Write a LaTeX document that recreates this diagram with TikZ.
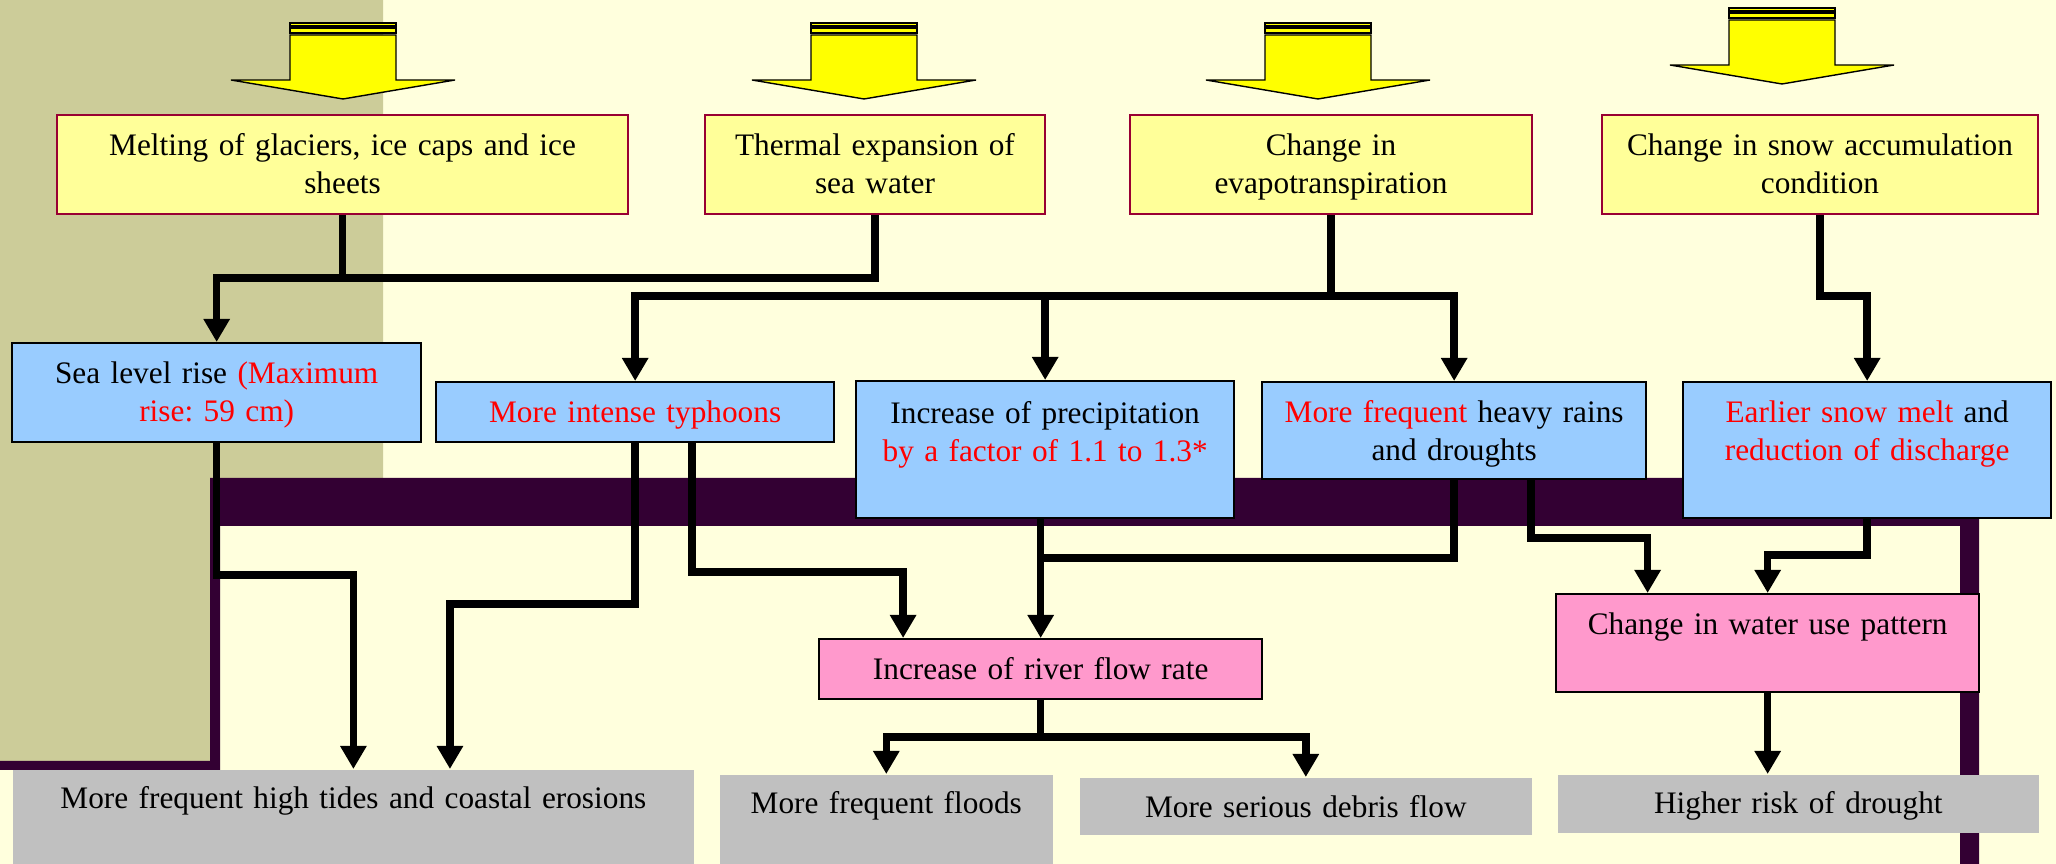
\documentclass[tikz,border=0pt]{standalone}
\usepackage{fontspec}
\setmainfont{Liberation Serif}
\usetikzlibrary{arrows.meta}
\definecolor{paper}{RGB}{255,255,221}
\definecolor{khaki}{RGB}{204,204,153}
\definecolor{plum}{RGB}{51,0,51}
\definecolor{causefill}{RGB}{255,255,153}
\definecolor{causeline}{RGB}{153,0,51}
\definecolor{impactfill}{RGB}{153,204,255}
\definecolor{flowfill}{RGB}{255,153,204}
\definecolor{resultfill}{RGB}{192,192,192}
\definecolor{bigarrow}{RGB}{255,255,0}

\begin{document}
\begin{tikzpicture}[x=0.01cm, y=-0.01cm,
                every node/.style={font=\fontsize{8.9}{10.8}\selectfont\frenchspacing},
                box/.style={inner sep=0pt, align=center, anchor=north west},
                causebox/.style={box, draw=causeline, fill=causefill, line width=.5pt},
                impactbox/.style={box, draw=black, fill=impactfill, line width=.6pt},
                flowbox/.style={box, draw=black, fill=flowfill, line width=.6pt},
                resultbox/.style={box, fill=resultfill},
                link/.style={line width=.075cm},
                linkarrow/.style={link, -{Triangle[width=.25cm,length=.23cm]}}
                ]
  \useasboundingbox (0,0) rectangle (2056,864);
  \fill[paper] (0,0) rectangle (2056,864);
  \fill[khaki] (0,0) rectangle (383,478) (0,478) rectangle (210,761);
  \fill[plum] (210,478) rectangle (1979,526) (210,526) rectangle (220,770)
              (0,761) rectangle (220,770) (1960,526) rectangle (1979,864);

  % striped block arrows on top
  \foreach \cx/\ty in {343/23, 864/23, 1318/23, 1782/8} {
    \filldraw[fill=bigarrow, line width=.4pt] (\cx-53,\ty) rectangle (\cx+53,\ty+3);
    \filldraw[fill=bigarrow, line width=.4pt] (\cx-53,\ty+5) rectangle (\cx+53,\ty+10);
    \filldraw[fill=bigarrow, line width=.4pt] (\cx-53,\ty+12) -- (\cx-53,\ty+57) -- (\cx-112,\ty+57)
        -- (\cx,\ty+76) -- (\cx+112,\ty+57) -- (\cx+53,\ty+57) -- (\cx+53,\ty+12) -- cycle;
  }

  \node[causebox, text width=5.71cm, text height=.41cm, text depth=.58cm] (melt) at (56,114)
       {Melting of glaciers, ice caps and ice\\sheets};
  \node[causebox, text width=3.40cm, text height=.41cm, text depth=.58cm] (thermal) at (704,114)
       {Thermal expansion of\\sea water};
  \node[causebox, text width=4.02cm, text height=.41cm, text depth=.58cm] (evapo) at (1129,114)
       {Change in\\evapotranspiration};
  \node[causebox, text width=4.36cm, text height=.41cm, text depth=.58cm] (snow) at (1601,114)
       {Change in snow accumulation\\condition};

  \node[impactbox, text width=4.09cm, text height=.40cm, text depth=.59cm] (sea) at (11,342)
       {Sea level rise \textcolor{red}{(Maximum}\\\textcolor{red}{rise: 59 cm)}};
  \node[impactbox, text width=3.98cm, text height=.40cm, text depth=.20cm] (typhoon) at (435,381)
       {\textcolor{red}{More intense typhoons}};
  \node[impactbox, text width=3.78cm, text height=.42cm, text depth=.95cm] (precip) at (855,380)
       {Increase of precipitation\\\textcolor{red}{by a factor of 1.1 to 1.3*}};
  \node[impactbox, text width=3.84cm, text height=.40cm, text depth=.57cm] (heavy) at (1261,381)
       {\textcolor{red}{More frequent} heavy rains\\and droughts};
  \node[impactbox, text width=3.68cm, text height=.40cm, text depth=.96cm] (snowmelt) at (1682,381)
       {\textcolor{red}{Earlier snow melt} and\\\textcolor{red}{reduction of discharge}};

  \node[flowbox, text width=4.43cm, text height=.40cm, text depth=.20cm] (river) at (818,638)
       {Increase of river flow rate};
  \node[flowbox, text width=4.23cm, text height=.40cm, text depth=.58cm] (wateruse) at (1555,593)
       {Change in water use pattern};

  \node[resultbox, text width=6.81cm, text height=.39cm, text depth=.56cm] (tides) at (12,769)
       {More frequent high tides and coastal erosions};
  \node[resultbox, text width=3.33cm, text height=.39cm, text depth=.51cm] (floods) at (719,774)
       {More frequent floods};
  \node[resultbox, text width=4.52cm, text height=.40cm, text depth=.17cm] (debris) at (1079,777)
       {More serious debris flow};
  \node[resultbox, text width=4.81cm, text height=.39cm, text depth=.19cm] (drought) at (1557,774)
       {Higher risk of drought};

  \coordinate (meltbend) at (0,278);
  \coordinate (evapobend) at (0,296);
  \coordinate (seabend) at (0,575);
  \coordinate (gustbend) at (0,572);
  \coordinate (typhoonbend) at (0,604);
  \coordinate (rainbend) at (0,558);
  \coordinate (dryspellbend) at (0,538);
  \coordinate (meltwaterbend) at (0,555);
  \coordinate (riverbend) at (0,737);
  \coordinate (tidesport) at ([xshift=.965cm]tides.north);
  \coordinate (typhoonport) at ([xshift=.57cm]typhoon.south);
  \coordinate (riverport) at ([xshift=-1.375cm]river.north);
  \coordinate (heavyport) at ([xshift=.77cm]heavy.south);
  \coordinate (waterport) at ([xshift=-1.2cm]wateruse.north);

  \draw[link] (melt.south) -- (melt.south |- meltbend);
  \draw[linkarrow] (thermal.south) |- (sea.north |- meltbend) -- (sea.north);
  \draw[link] (evapo.south) -- (evapo.south |- evapobend);
  \draw[linkarrow] (evapo.south |- evapobend) -| (typhoon.north);
  \draw[linkarrow] (evapo.south |- evapobend) -| (heavy.north);
  \draw[linkarrow] (precip.north |- evapobend) -- (precip.north);
  \draw[linkarrow] (snow.south) |- (snowmelt.north |- evapobend) -- (snowmelt.north);

  \draw[linkarrow] (sea.south) |- (tides.north |- seabend) -- (tides.north);
  \draw[linkarrow] (typhoon.south) |- (tidesport |- typhoonbend) -- (tidesport);
  \draw[linkarrow] (typhoonport) |- (riverport |- gustbend) -- (riverport);
  \draw[linkarrow] (precip.south -| river.north) -- (river.north);
  \draw[link] (heavy.south) |- (river.north |- rainbend);
  \draw[linkarrow] (heavyport) |- (waterport |- dryspellbend) -- (waterport);
  \draw[linkarrow] (snowmelt.south) |- (wateruse.north |- meltwaterbend) -- (wateruse.north);

  \draw[linkarrow] (river.south) |- (floods.north |- riverbend) -- (floods.north);
  \draw[linkarrow] (river.south |- riverbend) -| (debris.north);
  \draw[linkarrow] (wateruse.south) -- (wateruse.south |- drought.north);
\end{tikzpicture}
\end{document}
